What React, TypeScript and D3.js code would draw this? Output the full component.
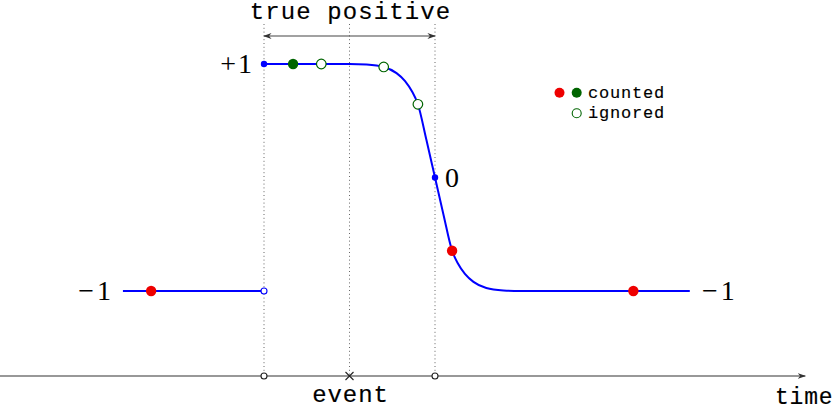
import React from 'react';
import * as d3 from 'd3';

// time units: 0 = start of true positive window, 1 = event, 2 = end of window
const markTimes = [0, 1, 2];
const windowLabel = 'true positive';
const axisLabel = 'time';
const eventLabel = 'event';

// signal: flat -1 before the window, then +1 decaying to -1
const leftSegment: [number, number][] = [[-1.65, -1], [0, -1]];
const signal: [number, number][] = [
  [0, 1], [0.5, 1], [1.0, 1], [1.2, 0.995], [1.4, 0.974], [1.55, 0.92],
  [1.65, 0.85], [1.73, 0.76], [1.8, 0.645], [1.9, 0.33], [2, 0],
  [2.1, -0.33], [2.2, -0.645], [2.27, -0.76], [2.35, -0.85], [2.45, -0.92],
  [2.6, -0.974], [2.8, -0.995], [3.0, -1], [4.98, -1]
];

const countedRed: [number, number][] = [[-1.32, -1], [2.2, -0.645], [4.32, -1]];
const countedGreen: [number, number][] = [[0.34, 1]];
const ignored: [number, number][] = [[0.67, 1], [1.4, 0.974], [1.8, 0.645]];
const blueFilled: [number, number][] = [[0, 1], [2, 0]];
const blueOpen: [number, number][] = [[0, -1]];

const axisRange = [-3.09, 6.33];

const W = 836;
const H = 413;

const x = d3.scaleLinear().domain([0, 2]).range([264, 435]);
const y = d3.scaleLinear().domain([-1, 1]).range([291, 64]);
const axisY = 376;

const BLUE = '#0000ff';
const RED = '#ee0000';
const GREEN = '#006400';
const mono = '"Liberation Mono", "DejaVu Sans Mono", monospace';
const serif = '"Liberation Serif", "DejaVu Serif", serif';

const line = d3.line<[number, number]>()
  .x(d => x(d[0]))
  .y(d => y(d[1]))
  .curve(d3.curveMonotoneX);

export default function App() {
  const [, win1, win2] = markTimes;
  const monoText = { fontFamily: mono, stroke: '#000', strokeWidth: 0.15 };
  return (
    <svg width={W} height={H} style={{ position: 'absolute', left: 0, top: 0, background: '#fff' }}>
      <defs>
        <marker id="arr" viewBox="0 0 10 10" refX="9" refY="5" markerWidth="7" markerHeight="7" orient="auto-start-reverse">
          <path d="M0,1.5 L10,5 L0,8.5 L3,5 Z" fill="#333" />
        </marker>
      </defs>

      {/* dotted guides */}
      {markTimes.map(t => (
        <line key={t} x1={x(t)} x2={x(t)} y1={24} y2={axisY}
          stroke="#666" strokeWidth={1} strokeDasharray="1,2.8" />
      ))}

      {/* time axis */}
      <line x1={x(axisRange[0])} x2={x(axisRange[1])} y1={axisY} y2={axisY}
        stroke="#333" strokeWidth={1.2} markerEnd="url(#arr)" />
      <text x={x(axisRange[1]) - 1} y={404} textAnchor="middle" fontSize={23} letterSpacing={0.8} {...monoText}>{axisLabel}</text>
      {[0, win2].map(t => (
        <circle key={t} cx={x(t)} cy={axisY} r={3} fill="#fff" stroke="#222" strokeWidth={1.1} />
      ))}
      <path d={`M${x(win1) - 4},${axisY - 4} L${x(win1) + 4},${axisY + 4} M${x(win1) - 4},${axisY + 4} L${x(win1) + 4},${axisY - 4}`}
        stroke="#222" strokeWidth={1.1} />
      <text x={x(win1) + 1} y={402} textAnchor="middle" fontSize={24} letterSpacing={0.9} {...monoText}>{eventLabel}</text>

      {/* true positive window */}
      <line x1={x(0)} x2={x(win2)} y1={36} y2={36} stroke="#444" strokeWidth={1.2}
        markerStart="url(#arr)" markerEnd="url(#arr)" />
      <text x={x(win1) + 1} y={19} textAnchor="middle" fontSize={24} letterSpacing={1.1} {...monoText}>{windowLabel}</text>

      {/* signal */}
      <path d={line(leftSegment) ?? ''} fill="none" stroke={BLUE} strokeWidth={2} />
      <path d={line(signal) ?? ''} fill="none" stroke={BLUE} strokeWidth={2} />

      {blueFilled.map((d, i) => (
        <circle key={'bf' + i} cx={x(d[0])} cy={y(d[1])} r={3.2} fill={BLUE} />
      ))}
      {blueOpen.map((d, i) => (
        <circle key={'bo' + i} cx={x(d[0])} cy={y(d[1])} r={3} fill="#fff" stroke={BLUE} strokeWidth={1.1} />
      ))}
      {countedRed.map((d, i) => (
        <circle key={'r' + i} cx={x(d[0])} cy={y(d[1])} r={5.2} fill={RED} />
      ))}
      {countedGreen.map((d, i) => (
        <circle key={'g' + i} cx={x(d[0])} cy={y(d[1])} r={5.2} fill={GREEN} />
      ))}
      {ignored.map((d, i) => (
        <circle key={'i' + i} cx={x(d[0])} cy={y(d[1])} r={4.8} fill="#fff" stroke={GREEN} strokeWidth={1.2} />
      ))}

      {/* value labels */}
      <text x={252} y={y(1) + 9} textAnchor="end" fontFamily={serif} fontSize={28}>+<tspan dx={2}>1</tspan></text>
      <text x={111} y={y(-1) + 9} textAnchor="end" fontFamily={serif} fontSize={28}>−<tspan dx={3}>1</tspan></text>
      <text x={702} y={y(-1) + 9} fontFamily={serif} fontSize={28}>−<tspan dx={3}>1</tspan></text>
      <text x={445} y={y(0) + 9} fontFamily={serif} fontSize={28}>0</text>

      {/* legend */}
      <circle cx={559.5} cy={92.7} r={5} fill={RED} />
      <circle cx={576.7} cy={92.7} r={5} fill={GREEN} />
      <text x={588} y={98} fontSize={17} letterSpacing={0.8} {...monoText}>counted</text>
      <circle cx={576.7} cy={113.3} r={4.5} fill="#fff" stroke={GREEN} strokeWidth={1.1} />
      <text x={588} y={117.5} fontSize={17} letterSpacing={0.8} {...monoText}>ignored</text>
    </svg>
  );
}
